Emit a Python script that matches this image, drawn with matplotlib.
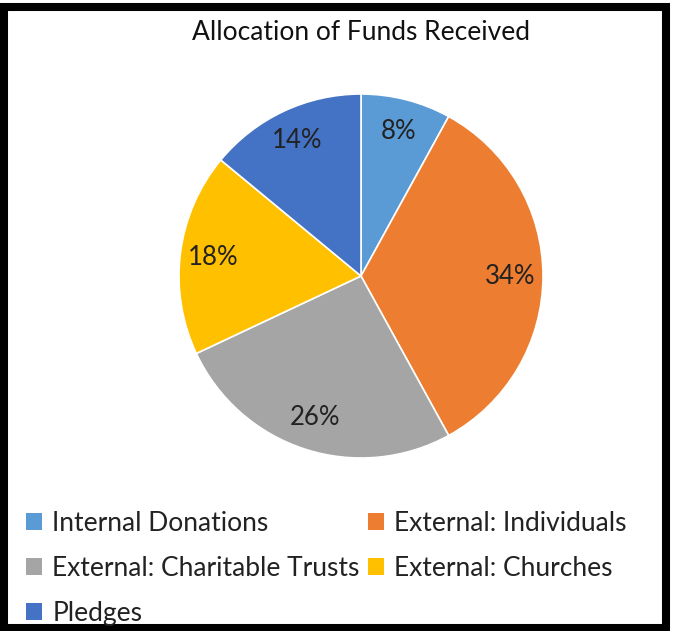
import matplotlib.pyplot as plt
from matplotlib.patches import Rectangle, Patch

plt.rcParams['font.family'] = ['Lato', 'DejaVu Sans']

# Data
labels = ["Internal Donations", "External: Individuals", "External: Charitable Trusts",
          "External: Churches", "Pledges"]
shares = [8, 34, 26, 18, 14]
colors = ["#5B9BD5", "#ED7D31", "#A5A5A5", "#FFC000", "#4472C4"]

W, H = 673, 631
fig = plt.figure(figsize=(W / 100, H / 100), dpi=100)

# pie axes: center (361, 276), radius ~182 px
r = 182
cx, cy = 361, 276
ax = fig.add_axes([(cx - r) / W, 1 - (cy + r) / H, 2 * r / W, 2 * r / H])
wedges, texts, autotexts = ax.pie(
    shares, colors=colors, startangle=90, counterclock=False,
    autopct=lambda p: f"{p:.0f}%", pctdistance=0.82,
    wedgeprops=dict(edgecolor="white", linewidth=1.2),
    textprops=dict(fontsize=18.5, color="#222222"))
ax.set_xlim(-1, 1)
ax.set_ylim(-1, 1)
ax.set_aspect("equal")

fig.text(361 / W, 1 - 33 / H, "Allocation of Funds Received", ha="center", va="center",
         fontsize=19, color="#111111")

# legend, filled row by row like the original
order = [0, 2, 4, 1, 3]
handles = [Patch(facecolor=colors[i], edgecolor="none") for i in order]
fig.legend(handles, [labels[i] for i in order], ncol=2, loc="upper left",
           bbox_to_anchor=(5 / W, 1 - 490 / H), frameon=False, fontsize=19,
           handlelength=0.6, handleheight=0.6, handletextpad=0.4,
           columnspacing=0.3, labelspacing=0.75, labelcolor="#222222",
           borderpad=0.3)

# thick black frame
fig.patches.append(Rectangle((4 / W, 3 / H), 662 / W, 621 / H, transform=fig.transFigure,
                             fill=False, edgecolor="black", linewidth=5.8))

fig.savefig("out.png", dpi=100)
